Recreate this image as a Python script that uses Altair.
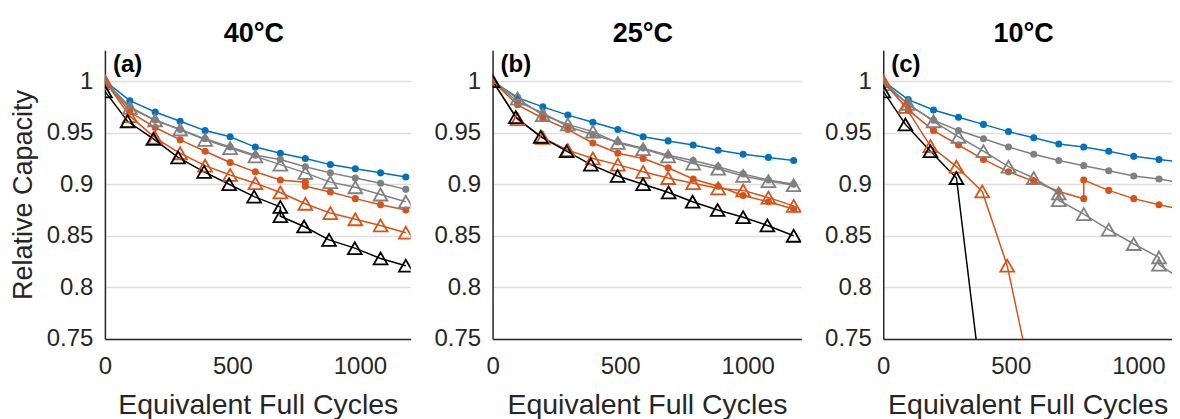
import altair as alt
import pandas as pd

# ---------------- data ----------------
CYC = [0, 98, 197, 295, 393, 491, 590, 688, 786, 884, 982, 1081, 1180]

# panel (a) 40°C
A_BLUE_Y = [1.0, 0.981, 0.970, 0.961, 0.952, 0.946, 0.936, 0.930, 0.925, 0.919, 0.915, 0.911, 0.907]
A_GRAYDOT_Y = [1.0, 0.975, 0.962, 0.953, 0.944, 0.936, 0.928, 0.924, 0.917, 0.911, 0.906, 0.901, 0.895]
A_GRAYTRI_Y = [0.998, 0.974, 0.962, 0.953, 0.943, 0.935, 0.927, 0.919, 0.911, 0.902, 0.897, 0.890, 0.883]
A_ORANGEDOT_X = [0, 98, 197, 295, 393, 491, 590, 688, 786, 786, 884, 982, 1081, 1180]
A_ORANGEDOT_Y = [1.0, 0.970, 0.955, 0.943, 0.932, 0.921, 0.912, 0.904, 0.902, 0.898, 0.8925, 0.886, 0.880, 0.875]
A_ORANGETRI_Y = [1.0, 0.966, 0.945, 0.930, 0.918, 0.909, 0.901, 0.892, 0.881, 0.872, 0.866, 0.860, 0.853]
A_BLACK_X = [0, 89, 190, 287, 389, 487, 585, 688, 688, 781, 879, 980, 1081, 1180]
A_BLACK_Y = [0.99, 0.961, 0.944, 0.926, 0.912, 0.900, 0.888, 0.878, 0.869, 0.859, 0.846, 0.838, 0.828, 0.821]

# panel (b) 25°C
B_BLUE_Y = [1.0, 0.984, 0.975, 0.967, 0.960, 0.953, 0.946, 0.942, 0.938, 0.933, 0.929, 0.926, 0.923]
B_GRAYDOT_Y = [1.0, 0.980, 0.969, 0.956, 0.948, 0.941, 0.935, 0.928, 0.923, 0.917, 0.910, 0.904, 0.900]
B_GRAYTRI_Y = [1.0, 0.983, 0.967, 0.958, 0.951, 0.940, 0.934, 0.927, 0.920, 0.915, 0.908, 0.903, 0.899]
B_ORANGEDOT_Y = [1.0, 0.977, 0.964, 0.953, 0.940, 0.930, 0.925, 0.916, 0.905, 0.898, 0.889, 0.883, 0.876]
B_ORANGETRI_Y = [1.0, 0.963, 0.945, 0.933, 0.925, 0.919, 0.912, 0.906, 0.901, 0.896, 0.894, 0.887, 0.879]
B_BLACK_X = [0, 91, 189, 290, 385, 490, 590, 690, 784, 882, 982, 1077, 1180]
B_BLACK_Y = [1.0, 0.965, 0.946, 0.932, 0.919, 0.908, 0.900, 0.892, 0.883, 0.875, 0.868, 0.860, 0.850]

# panel (c) 10°C
C_BLUE_Y = [1.0, 0.982, 0.972, 0.965, 0.958, 0.951, 0.945, 0.939, 0.936, 0.932, 0.927, 0.924, 0.921]
C_GRAYDOT_Y = [1.0, 0.977, 0.962, 0.952, 0.944, 0.936, 0.929, 0.923, 0.918, 0.913, 0.908, 0.905, 0.901]
C_ORANGEDOT_X = [0, 98, 197, 295, 393, 491, 590, 688, 786, 786, 884, 982, 1081, 1180]
C_ORANGEDOT_Y = [1.0, 0.972, 0.952, 0.938, 0.924, 0.912, 0.903, 0.893, 0.886, 0.904, 0.894, 0.886, 0.880, 0.875]
C_GRAYTRI_X = [0, 98, 197, 295, 393, 491, 590, 688, 688, 786, 884, 982, 1081, 1081, 1180]
C_GRAYTRI_Y = [0.997, 0.978, 0.961, 0.946, 0.932, 0.917, 0.906, 0.891, 0.8845, 0.871, 0.856, 0.842, 0.829, 0.822, 0.806]
C_ORANGETRI_X = [0, 87, 185, 287, 388, 486, 590]
C_ORANGETRI_Y = [1.0, 0.975, 0.937, 0.917, 0.893, 0.821, 0.700]
C_BLACK_X = [0, 87, 185, 287, 385]
C_BLACK_Y = [0.990, 0.958, 0.932, 0.906, 0.707]

TEMPS = ["40°C", "25°C", "10°C"]
PANEL_LABELS = ["(a)", "(b)", "(c)"]
Y_TICKS = [0.75, 0.8, 0.85, 0.9, 0.95, 1.0]
X_TICKS = [0, 500, 1000]

SERIES = ["blue", "grayDot", "orangeDot", "grayTri", "orangeTri", "black"]
COLORS = ["#0072BD", "#808080", "#D95319", "#808080", "#D95319", "#000000"]
KIND = {"blue": "dot", "grayDot": "dot", "orangeDot": "dot",
        "grayTri": "tri", "orangeTri": "tri", "black": "tri"}

PANELS = [
    {"blue": (CYC, A_BLUE_Y), "grayDot": (CYC, A_GRAYDOT_Y), "orangeDot": (A_ORANGEDOT_X, A_ORANGEDOT_Y),
     "grayTri": (CYC, A_GRAYTRI_Y), "orangeTri": (CYC, A_ORANGETRI_Y), "black": (A_BLACK_X, A_BLACK_Y)},
    {"blue": (CYC, B_BLUE_Y), "grayDot": (CYC, B_GRAYDOT_Y), "orangeDot": (CYC, B_ORANGEDOT_Y),
     "grayTri": (CYC, B_GRAYTRI_Y), "orangeTri": (CYC, B_ORANGETRI_Y), "black": (B_BLACK_X, B_BLACK_Y)},
    {"blue": (CYC, C_BLUE_Y), "grayDot": (CYC, C_GRAYDOT_Y), "orangeDot": (C_ORANGEDOT_X, C_ORANGEDOT_Y),
     "grayTri": (C_GRAYTRI_X, C_GRAYTRI_Y), "orangeTri": (C_ORANGETRI_X, C_ORANGETRI_Y), "black": (C_BLACK_X, C_BLACK_Y)},
]

X_MAX = [1199, 1210, 1132]
WIDTHS = [306, 309, 289]
HEIGHT = 289
FONT = "Liberation Sans"

color_scale = alt.Scale(domain=SERIES, range=COLORS)


def build_panel(p):
    rows = []
    for s in SERIES:
        xs, ys = PANELS[p][s]
        for i, (xv, yv) in enumerate(zip(xs, ys)):
            rows.append({"series": s, "kind": KIND[s], "x": xv, "y": yv, "order": i})
    df = pd.DataFrame(rows)

    x_enc = alt.X("x:Q", scale=alt.Scale(domain=[0, X_MAX[p]], nice=False, zero=False),
                  axis=alt.Axis(values=X_TICKS, format="d", title="Equivalent Full Cycles", grid=False))
    if p == 0:
        y_axis = alt.Axis(values=Y_TICKS, format=".2~f", title="Relative Capacity")
    else:
        y_axis = alt.Axis(values=Y_TICKS, format=".2~f", title=None)
    y_enc = alt.Y("y:Q", scale=alt.Scale(domain=[0.75, 1.03], nice=False, zero=False), axis=y_axis)
    c_enc = alt.Color("series:N", scale=color_scale, legend=None)

    lines = alt.Chart(df).mark_line(strokeWidth=1.5, clip=True).encode(
        x=x_enc, y=y_enc, color=c_enc, detail="series:N", order="order:Q")
    dots = alt.Chart(df[df["kind"] == "dot"]).mark_point(
        shape="circle", filled=True, size=50, opacity=1, clip=True).encode(x=x_enc, y=y_enc, color=c_enc)
    tris = alt.Chart(df[df["kind"] == "tri"]).mark_point(
        shape="triangle-up", filled=False, size=190, strokeWidth=1.8, opacity=1, clip=True).encode(
        x=x_enc, y=y_enc, color=c_enc)
    lab_df = pd.DataFrame({"x": [0], "y": [1.03], "label": [PANEL_LABELS[p]]})
    label = alt.Chart(lab_df).mark_text(
        align="left", baseline="top", dx=8, dy=3, fontSize=24, fontWeight="bold", font=FONT, color="#000000"
    ).encode(x=x_enc, y=y_enc, text="label:N")

    return alt.layer(lines, dots, tris, label).properties(
        width=WIDTHS[p], height=HEIGHT,
        title=alt.TitleParams(text=TEMPS[p], fontSize=27, fontWeight="bold", font=FONT, color="#000000",
                              dx=-4, offset=2))


chart = alt.hconcat(*[build_panel(p) for p in range(3)], spacing=82, bounds="flush").properties(
    padding={"left": 1, "top": 12, "right": 0, "bottom": 0}
).configure_view(stroke=None).configure_axis(
    domainColor="#262626", domainWidth=1.5, ticks=False,
    labelFont=FONT, labelFontSize=24, labelColor="#262626", labelPadding=12, labelFlush=False,
    titleFont=FONT, titleFontSize=27, titleFontWeight="normal", titleColor="#262626",
    gridColor="#dedede", gridWidth=1.5
).configure_axisX(labelPadding=16, titlePadding=12, titleFontSize=28.5).configure_axisY(titlePadding=9)

chart.save("out.html", embed_options={"renderer": "svg", "actions": False})
